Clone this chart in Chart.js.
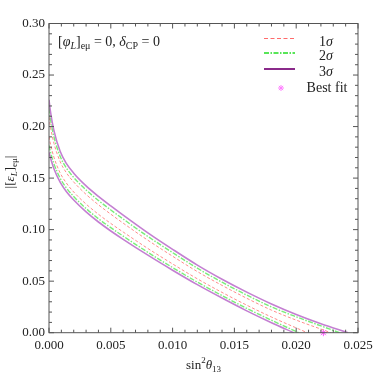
<!DOCTYPE html>
<html lang="en">
<head>
  <meta charset="UTF-8">
  <title>sin2 theta13 contours</title>
  <script src="https://cdn.jsdelivr.net/npm/chart.js"></script>
  <style>
    html, body { margin: 0; padding: 0; background: #fff; }
    .chart-container { position: relative; width: 382px; height: 378px; }
  </style>
</head>
<body>
  <div class="chart-container">
    <canvas id="contourChart"></canvas>
  </div>
  <script>
    // Contour values (x = sin^2 theta13, y = |[eps_L]_emu|)
    const sigma3UpperX = [0, 0.0001, 0.0004, 0.0009, 0.0014, 0.002, 0.003, 0.004, 0.005, 0.006, 0.008, 0.010, 0.012, 0.014, 0.016, 0.018, 0.020, 0.022, 0.0242];
    const sigma3UpperY = [0.226, 0.216, 0.196, 0.176, 0.1643, 0.1548, 0.1425, 0.1323, 0.1230, 0.1141, 0.0969, 0.0809, 0.0656, 0.0519, 0.0394, 0.0279, 0.0177, 0.0087, 0];

    const sigma2UpperX = [0, 0.0001, 0.0004, 0.0009, 0.0014, 0.002, 0.003, 0.004, 0.005, 0.006, 0.008, 0.010, 0.012, 0.014, 0.016, 0.018, 0.020, 0.022, 0.0235];
    const sigma2UpperY = [0.2178, 0.2087, 0.1901, 0.1712, 0.1599, 0.1506, 0.1385, 0.1283, 0.1191, 0.1103, 0.0934, 0.0777, 0.0626, 0.0490, 0.0365, 0.0250, 0.0154, 0.0066, 0];

    const sigma1UpperX = [0, 0.0001, 0.0004, 0.0009, 0.0014, 0.002, 0.003, 0.004, 0.005, 0.006, 0.008, 0.010, 0.012, 0.014, 0.016, 0.018, 0.020, 0.022, 0.0228];
    const sigma1UpperY = [0.2092, 0.2010, 0.1838, 0.1661, 0.1553, 0.1462, 0.1342, 0.1241, 0.1150, 0.1063, 0.0897, 0.0742, 0.0593, 0.0459, 0.0334, 0.0219, 0.0122, 0.0035, 0];

    const sigma1LowerX = [0, 0.0001, 0.0004, 0.0009, 0.0014, 0.002, 0.003, 0.004, 0.005, 0.006, 0.008, 0.010, 0.012, 0.014, 0.016, 0.018, 0.0209];
    const sigma1LowerY = [0.1903, 0.1842, 0.1702, 0.1551, 0.1453, 0.1365, 0.1248, 0.1149, 0.1060, 0.0977, 0.0817, 0.0667, 0.0523, 0.0391, 0.0267, 0.0152, 0];

    const sigma2LowerX = [0, 0.0001, 0.0004, 0.0009, 0.0014, 0.002, 0.003, 0.004, 0.005, 0.006, 0.008, 0.010, 0.012, 0.014, 0.016, 0.018, 0.0202];
    const sigma2LowerY = [0.1816, 0.1764, 0.1639, 0.1500, 0.1406, 0.1321, 0.1205, 0.1106, 0.1019, 0.0937, 0.0780, 0.0632, 0.0491, 0.0360, 0.0236, 0.0121, 0];

    const sigma3LowerX = [0, 0.0001, 0.0004, 0.0009, 0.0014, 0.002, 0.003, 0.004, 0.005, 0.006, 0.008, 0.010, 0.012, 0.014, 0.016, 0.018, 0.0198];
    const sigma3LowerY = [0.1750, 0.1705, 0.1591, 0.1461, 0.1371, 0.1287, 0.1172, 0.1074, 0.0987, 0.0906, 0.0752, 0.0606, 0.0466, 0.0336, 0.0212, 0.0097, 0];

    const bestFitX = [0.0222];
    const bestFitY = [0];

    const xTicks = [0, 0.005, 0.010, 0.015, 0.020, 0.025];
    const xTickLabels = ['0.000', '0.005', '0.010', '0.015', '0.020', '0.025'];
    const yTicks = [0, 0.05, 0.10, 0.15, 0.20, 0.25, 0.30];
    const yTickLabels = ['0.00', '0.05', '0.10', '0.15', '0.20', '0.25', '0.30'];

    const FONT = "'Liberation Serif', 'DejaVu Serif', serif";
    const RED = '#ff8c8c', GREEN = '#7aee7a', PURPLE = '#c47fd2';

    function pts(xs, ys) {
      return xs.map((x, i) => ({ x: x, y: ys[i] }));
    }

    function curve(label, xs, ys, color, dash, width) {
      return {
        label: label,
        data: pts(xs, ys),
        borderColor: color,
        borderWidth: width,
        borderDash: dash,
        pointRadius: 0,
        showLine: true,
        fill: false,
        cubicInterpolationMode: 'monotone'
      };
    }

    // draws text made of pieces (normal / italic / sub / sup)
    function drawRich(ctx, parts, x, y, align) {
      let total = 0;
      parts.forEach(p => {
        ctx.font = (p.it ? 'italic ' : '') + p.s + 'px ' + FONT;
        p.w = ctx.measureText(p.t).width;
        total += p.w;
      });
      let cx = align === 'center' ? x - total / 2 : (align === 'right' ? x - total : x);
      ctx.textAlign = 'left';
      ctx.textBaseline = 'alphabetic';
      parts.forEach(p => {
        ctx.font = (p.it ? 'italic ' : '') + p.s + 'px ' + FONT;
        ctx.fillText(p.t, cx, y + (p.dy || 0));
        cx += p.w;
      });
    }

    const framePlugin = {
      id: 'framePlugin',
      afterDraw(chart) {
        const ctx = chart.ctx;
        const a = chart.chartArea;
        const xs = chart.scales.x, ys = chart.scales.y;
        ctx.save();
        ctx.strokeStyle = '#555';
        ctx.lineWidth = 1;
        ctx.strokeRect(a.left, a.top, a.right - a.left, a.bottom - a.top);

        // inward ticks on all four sides
        ctx.beginPath();
        for (let i = 0; i <= 25; i++) {
          const px = xs.getPixelForValue(i * 0.001);
          const len = i % 5 === 0 ? 5 : 3;
          ctx.moveTo(px, a.bottom); ctx.lineTo(px, a.bottom - len);
          ctx.moveTo(px, a.top); ctx.lineTo(px, a.top + len);
        }
        for (let i = 0; i <= 30; i++) {
          const py = ys.getPixelForValue(i * 0.01);
          const len = i % 5 === 0 ? 5 : 3;
          ctx.moveTo(a.left, py); ctx.lineTo(a.left + len, py);
          ctx.moveTo(a.right, py); ctx.lineTo(a.right - len, py);
        }
        ctx.stroke();

        ctx.fillStyle = '#222';
        // x title
        drawRich(ctx, [
          { t: 'sin', s: 13 },
          { t: '2', s: 9, dy: -6 },
          { t: 'θ', s: 13, it: true },
          { t: '13', s: 9, dy: 3 }
        ], (a.left + a.right) / 2, 369, 'center');

        // y title
        ctx.save();
        ctx.translate(14, 172);
        ctx.rotate(-Math.PI / 2);
        drawRich(ctx, [
          { t: '|[', s: 13 },
          { t: 'ε', s: 13, it: true },
          { t: 'L', s: 9, it: true, dy: 3 },
          { t: ']', s: 13 },
          { t: 'eμ', s: 9, dy: 3 },
          { t: '|', s: 13 }
        ], 0, 0, 'center');
        ctx.restore();

        // annotation
        drawRich(ctx, [
          { t: '[', s: 14 },
          { t: 'φ', s: 14, it: true },
          { t: 'L', s: 10, it: true, dy: 3 },
          { t: ']', s: 14 },
          { t: 'eμ', s: 10, dy: 3 },
          { t: ' = 0, ', s: 14 },
          { t: 'δ', s: 14, it: true },
          { t: 'CP', s: 10, dy: 3 },
          { t: ' = 0', s: 14 }
        ], 58, 46, 'left');

        // legend
        const rows = [
          { c: '#ff6b6b', d: [4, 2.5], w: 1, y: 38.5, n: '1' },
          { c: '#22dd22', d: [5, 1.5, 1.5, 1.5], w: 1.5, y: 53, n: '2' },
          { c: '#8a2a8a', d: [], w: 2, y: 69, n: '3' }
        ];
        rows.forEach(r => {
          ctx.beginPath();
          ctx.strokeStyle = r.c;
          ctx.lineWidth = r.w;
          ctx.setLineDash(r.d);
          ctx.moveTo(264, r.y); ctx.lineTo(295, r.y);
          ctx.stroke();
          ctx.setLineDash([]);
          drawRich(ctx, [{ t: r.n, s: 14 }, { t: 'σ', s: 14, it: true }], 326, r.y + 7, 'center');
        });
        ctx.fillStyle = '#ff7fff';
        ctx.strokeStyle = '#ff7fff';
        ctx.lineWidth = 1;
        Chart.helpers.drawPoint(ctx, { pointStyle: 'star', radius: 3, rotation: 0, borderWidth: 1 }, 281, 88);
        ctx.fillStyle = '#222';
        drawRich(ctx, [{ t: 'Best fit', s: 14 }], 327, 92, 'center');
        ctx.restore();
      }
    };

    new Chart(document.getElementById('contourChart').getContext('2d'), {
      type: 'scatter',
      data: {
        datasets: [
          curve('3σ upper', sigma3UpperX, sigma3UpperY, PURPLE, [], 1.6),
          curve('3σ lower', sigma3LowerX, sigma3LowerY, PURPLE, [], 1.6),
          curve('2σ upper', sigma2UpperX, sigma2UpperY, GREEN, [5, 1.5, 1.5, 1.5], 1.4),
          curve('2σ lower', sigma2LowerX, sigma2LowerY, GREEN, [5, 1.5, 1.5, 1.5], 1.4),
          curve('1σ upper', sigma1UpperX, sigma1UpperY, RED, [3, 2], 1),
          curve('1σ lower', sigma1LowerX, sigma1LowerY, RED, [3, 2], 1),
          {
            label: 'Best fit',
            data: pts(bestFitX, bestFitY),
            pointStyle: 'star',
            pointRadius: 3.5,
            borderColor: '#ff55ff',
            backgroundColor: '#ff55ff',
            borderWidth: 1,
            clip: false
          }
        ]
      },
      options: {
        responsive: true,
        maintainAspectRatio: false,
        animation: false,
        layout: { padding: { top: 23.5, right: 24, left: 0, bottom: 0 } },
        plugins: { legend: { display: false }, tooltip: { enabled: false } },
        scales: {
          x: {
            type: 'linear', min: 0, max: 0.025,
            grid: { display: false, drawTicks: false },
            border: { display: false },
            afterBuildTicks: s => { s.ticks = xTicks.map(v => ({ value: v })); },
            afterFit: s => { s.height = 45.3; },
            ticks: {
              padding: 5, color: '#222', maxRotation: 0,
              font: { family: FONT, size: 13 },
              callback: (v, i) => xTickLabels[i]
            }
          },
          y: {
            type: 'linear', min: 0, max: 0.30,
            grid: { display: false, drawTicks: false },
            border: { display: false },
            afterBuildTicks: s => { s.ticks = yTicks.map(v => ({ value: v })); },
            afterFit: s => { s.width = 49; },
            ticks: {
              padding: 4, color: '#222',
              font: { family: FONT, size: 13 },
              callback: (v, i) => yTickLabels[i]
            }
          }
        }
      },
      plugins: [framePlugin]
    });
  </script>
</body>
</html>
